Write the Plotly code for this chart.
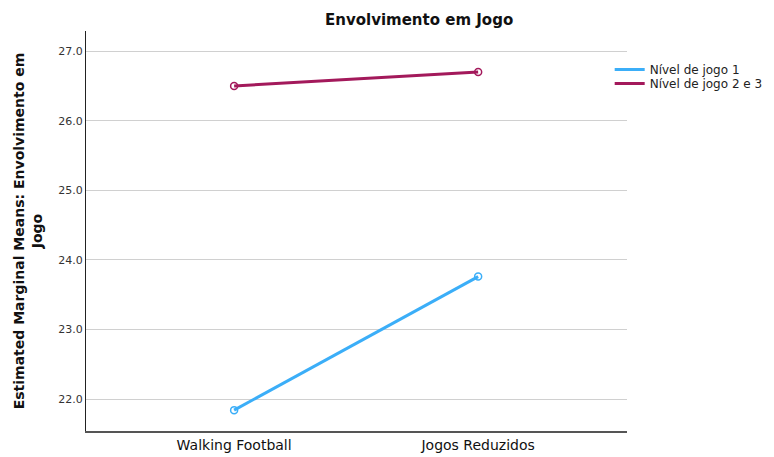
import plotly.graph_objects as go

# estimated marginal means
categories = ["Walking Football", "Jogos Reduzidos"]
nivel_1 = [21.84, 23.76]
nivel_2_3 = [26.50, 26.70]
series_names = ["Nível de jogo 1", "Nível de jogo 2 e 3"]
colors = ["#3BAEF8", "#A3195B"]
y_ticks = [22.0, 23.0, 24.0, 25.0, 26.0, 27.0]

FONT = "DejaVu Sans"
# the page body adds an 8px margin, so the figure is 8px smaller each way
W, H = 766, 449

fig = go.Figure()
# one legend per series so the two entries sit close together like SPSS
legend_ids = ["legend", "legend2"]
for name, vals, col, lid in zip(series_names, [nivel_1, nivel_2_3], colors, legend_ids):
    fig.add_trace(go.Scatter(
        x=categories, y=vals, name=name, mode="lines",
        line=dict(color=col, width=3), legend=lid,
    ))
    fig.add_trace(go.Scatter(
        x=categories, y=vals, name=name, mode="markers", showlegend=False,
        marker=dict(symbol="circle-open", size=7, color=col, line=dict(width=1.5)),
    ))

legend_style = dict(x=0.968, xanchor="left", yanchor="middle",
                    font=dict(size=12, color="#222222"), bgcolor="rgba(0,0,0,0)",
                    itemwidth=30, borderwidth=0)

fig.update_layout(
    width=W, height=H,
    margin=dict(l=78, r=147, t=23, b=26, autoexpand=False),
    paper_bgcolor="white", plot_bgcolor="white",
    font=dict(family=FONT, color="#222222"),
    title=dict(text="<b>Envolvimento em Jogo</b>", x=317 / W, xanchor="left",
               y=1 - 12 / H, yanchor="middle", font=dict(size=15, color="#111111")),
    legend=dict(y=0.904, **legend_style),
    legend2=dict(y=0.8685, **legend_style),
    showlegend=True,
)
fig.update_xaxes(
    range=[-0.607, 1.61], showgrid=False, showline=True, linecolor="#555555",
    linewidth=1.5, ticks="", tickfont=dict(size=14, color="#111111"),
    automargin=False,
)
fig.update_yaxes(
    range=[21.54, 27.29], tickvals=y_ticks, ticktext=[f"{v:.1f}" for v in y_ticks],
    showgrid=True, gridcolor="#D0D0D0", gridwidth=1, showline=True,
    linecolor="#222222", linewidth=1.2, ticks="", zeroline=False,
    tickfont=dict(size=11, color="#333333"), automargin=False,
    title=dict(text="<b>Estimated Marginal Means: Envolvimento em<br>Jogo</b>",
               font=dict(size=14, color="#111111"), standoff=12),
)

fig.write_html("out.html")
